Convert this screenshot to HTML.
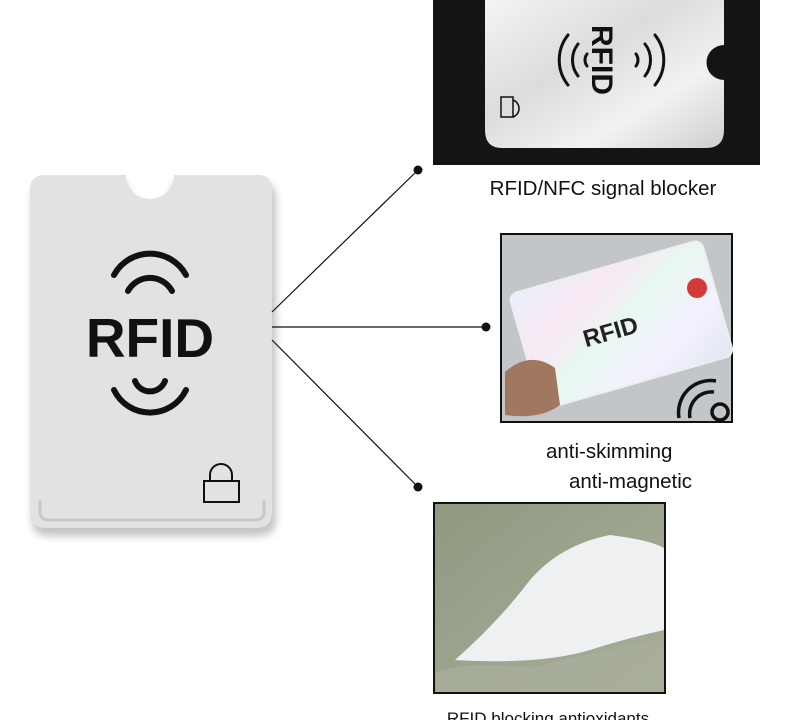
<!DOCTYPE html>
<html><head><meta charset="utf-8"><style>
html,body{margin:0;padding:0;background:#fff;width:790px;height:720px;overflow:hidden}
svg{display:block}
text{font-family:"Liberation Sans","DejaVu Sans",sans-serif}
</style></head><body>
<svg width="790" height="720" viewBox="0 0 790 720" xmlns="http://www.w3.org/2000/svg">
<defs>
<filter id="sh" x="-20%" y="-20%" width="140%" height="140%"><feGaussianBlur stdDeviation="4"/></filter>
<linearGradient id="silver" x1="0" y1="0" x2="1" y2="1">
<stop offset="0" stop-color="#f4f4f4"/><stop offset="0.4" stop-color="#dcdcdc"/><stop offset="0.7" stop-color="#f2f2f2"/><stop offset="1" stop-color="#cfcfcf"/></linearGradient>
<linearGradient id="holo" x1="0" y1="0" x2="1" y2="1">
<stop offset="0" stop-color="#e8f0f8"/><stop offset="0.3" stop-color="#f8e8f4"/><stop offset="0.5" stop-color="#e8f8f0"/><stop offset="0.75" stop-color="#f4f0ff"/><stop offset="1" stop-color="#dfe8f0"/></linearGradient>
<linearGradient id="bg3" x1="0" y1="0" x2="1" y2="1">
<stop offset="0" stop-color="#8f9a80"/><stop offset="1" stop-color="#a8ae9c"/></linearGradient>
</defs>

<path d="M45 182 H126 A24 24 0 0 0 174 182 H258 Q276 182 276 200 V520 Q276 536 258 536 H48 Q32 536 32 520 V200 Q32 182 45 182Z" fill="#888" opacity="0.5" filter="url(#sh)"/>
<path d="M45 175 H126 A24 24 0 0 0 174 175 H258 Q272 175 272 190 V512 Q272 528 256 528 H46 Q30 528 30 512 V190 Q30 175 45 175Z" fill="#e2e2e2"/>
<path d="M40 500 V512 Q40 520 50 520 H254 Q264 520 264 512 V500" fill="none" stroke="#c8c8c8" stroke-width="3"/>
<g fill="none" stroke="#111" stroke-width="6" stroke-linecap="round">
<path d="M114 275 A41 41 0 0 1 186 275"/>
<path d="M128 291 A25 25 0 0 1 172 291"/>
<path d="M135 381 A16 16 0 0 0 165 381"/>
<path d="M114 390 A40 40 0 0 0 186 390"/>
</g>
<text x="150" y="357" font-size="55" font-weight="bold" text-anchor="middle" fill="#111">RFID</text>
<g fill="none" stroke="#111" stroke-width="2">
<rect x="204" y="481" width="35" height="21"/>
<path d="M210 481 V475 A11 11 0 0 1 232 475 V481"/>
</g>

<g stroke="#111" stroke-width="1.2">
<line x1="272" y1="312" x2="418" y2="170"/>
<line x1="272" y1="327" x2="486" y2="327"/>
<line x1="272" y1="340" x2="418" y2="487"/>
</g>
<circle cx="418" cy="170" r="4.5" fill="#111"/>
<circle cx="486" cy="327" r="4.5" fill="#111"/>
<circle cx="418" cy="487" r="4.5" fill="#111"/>

<rect x="433" y="0" width="327" height="165" fill="#141414"/>
<path d="M485 0 H724 V45 A16 16 0 0 0 724 80 V130 Q724 148 706 148 H502 Q485 148 485 130 Z" fill="url(#silver)"/>
<g fill="none" stroke="#111" stroke-width="3" stroke-linecap="round">
<path d="M568 35 A40 40 0 0 0 568 85"/>
<path d="M578 44 A26 26 0 0 0 578 76"/>
<path d="M587 54 A10 10 0 0 0 587 66"/>
<path d="M655 35 A40 40 0 0 1 655 85"/>
<path d="M645 44 A26 26 0 0 1 645 76"/>
<path d="M636 54 A10 10 0 0 1 636 66"/>
</g>
<text x="0" y="0" font-size="30" font-weight="bold" fill="#111" text-anchor="middle" transform="translate(602,60) rotate(90)" dy="10">RFID</text>
<g fill="none" stroke="#111" stroke-width="1.5"><rect x="501" y="97" width="12" height="20"/><path d="M513 100 A9 9 0 0 1 513 117"/></g>
<text x="603" y="195" font-size="20.5" text-anchor="middle" fill="#111">RFID/NFC signal blocker</text>

<rect x="501" y="234" width="231" height="188" fill="#c3c6c8" stroke="#111" stroke-width="2"/>
<g transform="rotate(-16 620 320)">
<rect x="520" y="265" width="200" height="120" rx="8" fill="url(#holo)" stroke="#eee" stroke-width="2"/>
</g>
<circle cx="697" cy="288" r="10" fill="#d23a3a"/>
<text x="610" y="340" font-size="24" font-weight="bold" fill="#222" text-anchor="middle" transform="rotate(-16 610 330)">RFID</text>
<path d="M505 372 Q530 350 555 368 L560 405 Q540 420 505 415Z" fill="#a07860"/>
<g fill="none" stroke="#111" stroke-width="3.5"><path d="M679 418 A32 32 0 0 1 716 381"/><path d="M690 418 A22 22 0 0 1 714 392"/><circle cx="720" cy="412" r="8"/></g>
<text x="546" y="458" font-size="20.5" fill="#111">anti-skimming</text>
<text x="569" y="488" font-size="20.5" fill="#111">anti-magnetic</text>

<rect x="434" y="503" width="231" height="190" fill="url(#bg3)" stroke="#111" stroke-width="2"/>
<path d="M455 660 Q500 620 530 580 Q560 545 610 535 Q650 540 664 548 V630 Q620 640 590 650 Q540 665 455 660Z" fill="#eef0f2"/>
<path d="M436 672 Q480 660 530 668 Q600 650 664 640 V692 H436Z" fill="#a9ae9c" opacity="0.8"/>
<text x="548" y="724" font-size="17" text-anchor="middle" fill="#111">RFID blocking antioxidants</text>
</svg>
</body></html>
